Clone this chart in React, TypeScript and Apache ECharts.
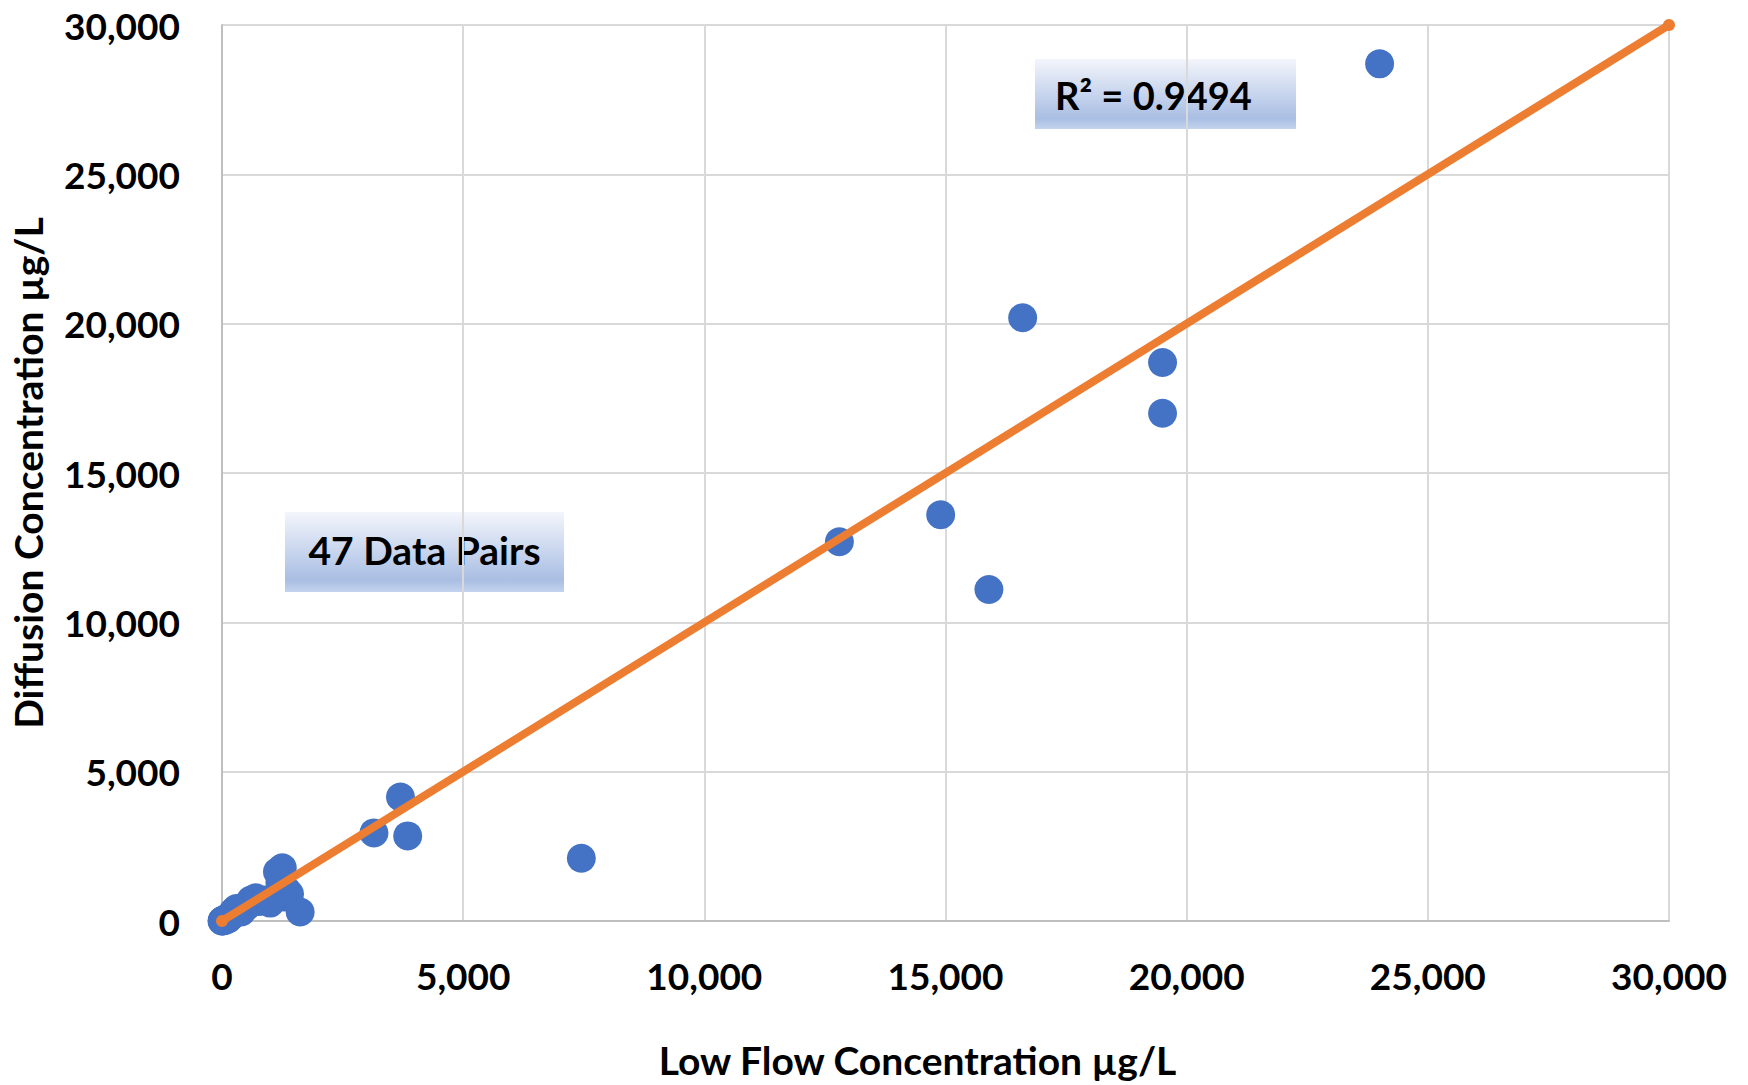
import React, { useEffect, useRef } from "react";
import * as echarts from "echarts";

// Low Flow concentration (x) vs Diffusion concentration (y), µg/L
const lowFlow: number[] = [
  24000, 16600, 19500, 19500, 14900, 12800, 15900, 3700, 3150, 3850, 7450,
  1150, 1250, 1200, 1350, 1400, 1300, 1620,
  0, 5, 10, 15, 20, 25, 30, 40, 50, 60, 70, 80, 100, 120, 150, 180, 200, 230,
  260, 300, 350, 400, 420, 500, 600, 700, 750, 900, 1000,
];
const diffusion: number[] = [
  28700, 20200, 18700, 17000, 13600, 12700, 11100, 4150, 2950, 2850, 2100,
  1650, 1780, 1300, 1000, 900, 800, 300,
  0, 2, 5, 25, 15, 10, 20, 30, 40, 20, 50, 70, 90, 60, 130, 150, 220, 300,
  350, 420, 380, 300, 450, 480, 700, 780, 650, 700, 600,
];
const oneToOneLine: [number, number][] = [
  [0, 0],
  [30000, 30000],
];
const xTicks = { min: 0, max: 30000, interval: 5000 };
const yTicks = { min: 0, max: 30000, interval: 5000 };
const xTitle = "Low Flow Concentration µg/L";
const yTitle = "Diffusion Concentration µg/L";
const r2Label = "R² = 0.9494";
const pairsLabel = "47 Data Pairs";

const FONT = "Lato, 'Noto Sans', sans-serif";

const fmt = (v: number) => v.toLocaleString("en-US");

const boxFill = {
  type: "linear",
  x: 0,
  y: 0,
  x2: 0,
  y2: 1,
  colorStops: [
    { offset: 0, color: "#f3f5fb" },
    { offset: 0.45, color: "#ccd8ef" },
    { offset: 0.85, color: "#a9bee3" },
    { offset: 1, color: "#c4d3ee" },
  ],
};

export default function App() {
  const ref = useRef<HTMLDivElement>(null);
  useEffect(() => {
    document.body.style.margin = "0";
    if (!ref.current) return;
    const chart = echarts.init(ref.current, undefined, { renderer: "svg" });
    const points = lowFlow.map((x, i) => [x, diffusion[i]]);
    chart.setOption({
      animation: false,
      backgroundColor: "#ffffff",
      grid: { left: 220, right: 79, top: 25, bottom: 164, containLabel: false },
      xAxis: {
        type: "value",
        min: xTicks.min,
        max: xTicks.max,
        interval: xTicks.interval,
        name: xTitle,
        nameLocation: "middle",
        nameGap: 119,
        nameTextStyle: {
          fontFamily: FONT,
          fontWeight: "bold",
          fontSize: 39,
          color: "#000",
          padding: [0, 56, 0, 0],
        },
        axisLine: { show: true, lineStyle: { color: "#bfbfbf", width: 2 } },
        axisTick: { show: false },
        axisLabel: {
          formatter: (v: number) => fmt(v),
          fontFamily: FONT,
          fontWeight: "bold",
          fontSize: 37,
          color: "#000",
          margin: 36,
        },
        splitLine: { show: true, lineStyle: { color: "#d9d9d9", width: 2 } },
      },
      yAxis: {
        type: "value",
        min: yTicks.min,
        max: yTicks.max,
        interval: yTicks.interval,
        name: yTitle,
        nameLocation: "middle",
        nameGap: 175,
        nameRotate: 90,
        nameTextStyle: {
          fontFamily: FONT,
          fontWeight: "bold",
          fontSize: 39,
          color: "#000",
        },
        axisLine: { show: true, lineStyle: { color: "#bfbfbf", width: 2 } },
        axisTick: { show: false },
        axisLabel: {
          formatter: (v: number) => fmt(v),
          fontFamily: FONT,
          fontWeight: "bold",
          fontSize: 37,
          color: "#000",
          margin: 42,
        },
        splitLine: { show: true, lineStyle: { color: "#d9d9d9", width: 2 } },
      },
      series: [
        {
          type: "scatter",
          data: points,
          symbol: "circle",
          symbolSize: 29,
          itemStyle: { color: "#4472c4", opacity: 1 },
          z: 2,
        },
        {
          type: "line",
          data: oneToOneLine,
          symbol: "circle",
          symbolSize: 12,
          showSymbol: true,
          itemStyle: { color: "#ed7d31", borderWidth: 0 },
          lineStyle: { color: "#ed7d31", width: 8 },
          z: 3,
        },
      ],
      graphic: [
        {
          type: "group",
          left: 1035,
          top: 59,
          children: [
            {
              type: "rect",
              shape: { x: 0, y: 0, width: 261, height: 70 },
              style: { fill: boxFill },
            },
            {
              type: "text",
              x: 20,
              y: 36,
              style: {
                text: r2Label,
                fontFamily: FONT,
                fontWeight: "bold",
                fontSize: 38,
                fill: "#000",
                verticalAlign: "middle",
                align: "left",
              },
            },
          ],
        },
        {
          type: "group",
          left: 285,
          top: 512,
          children: [
            {
              type: "rect",
              shape: { x: 0, y: 0, width: 279, height: 80 },
              style: { fill: boxFill },
            },
            {
              type: "text",
              x: 139.5,
              y: 38,
              style: {
                text: pairsLabel,
                fontFamily: FONT,
                fontWeight: "bold",
                fontSize: 39,
                fill: "#000",
                verticalAlign: "middle",
                align: "center",
              },
            },
          ],
        },
      ],
    });
    return () => chart.dispose();
  }, []);
  return (
    <div
      ref={ref}
      style={{ position: "fixed", left: 0, top: 0, width: 1748, height: 1085, background: "#fff" }}
    />
  );
}
